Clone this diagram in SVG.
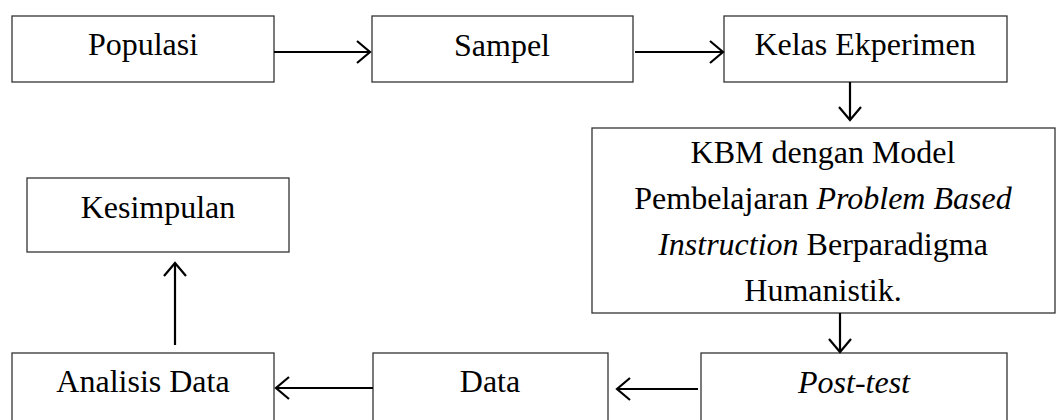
<svg xmlns="http://www.w3.org/2000/svg" width="1059" height="420" viewBox="0 0 1059 420">
<style>
.box{fill:#fff;stroke:#333;stroke-width:1.3}
.t{font-family:"Liberation Serif","Times New Roman",serif;font-size:32px;fill:#000;text-anchor:middle}
.i{font-style:italic}
.c{fill:none;stroke:#000;stroke-width:2.2}
</style>
<defs>
<marker id="ah" viewBox="0 0 16 24" refX="14" refY="12" markerWidth="16" markerHeight="24" markerUnits="userSpaceOnUse" orient="auto">
<path d="M1,1 L14,12 L1,23" fill="none" stroke="#000" stroke-width="2.2"/>
</marker>
</defs>
<rect width="1059" height="420" fill="#fff"/>
<g id="populasi"><rect class="box" x="12" y="16" width="262" height="66"/><text class="t" x="143" y="55">Populasi</text></g>
<g id="sampel"><rect class="box" x="372" y="16" width="261" height="66"/><text class="t" x="502" y="56">Sampel</text></g>
<g id="kelas"><rect class="box" x="724" y="16" width="283" height="66"/><text class="t" x="865" y="55">Kelas Ekperimen</text></g>
<g id="kbm"><rect class="box" x="592" y="128" width="463" height="185"/>
<text class="t" x="823" y="163">KBM dengan Model</text>
<text class="t" x="823" y="209">Pembelajaran <tspan class="i">Problem Based</tspan></text>
<text class="t" x="823" y="255"><tspan class="i">Instruction</tspan> Berparadigma</text>
<text class="t" x="823" y="301">Humanistik.</text></g>
<g id="posttest"><rect class="box" x="701" y="353" width="306" height="80"/><text class="t i" x="854" y="393">Post-test</text></g>
<g id="data"><rect class="box" x="373" y="353" width="235" height="80"/><text class="t" x="490" y="392">Data</text></g>
<g id="analisis"><rect class="box" x="12" y="353" width="262" height="80"/><text class="t" x="143" y="392">Analisis Data</text></g>
<g id="kesimpulan"><rect class="box" x="27" y="178" width="262" height="74"/><text class="t" x="158" y="218">Kesimpulan</text></g>
<g id="connectors">
<path class="c" d="M274,52 H370" marker-end="url(#ah)"/>
<path class="c" d="M635,52 H723" marker-end="url(#ah)"/>
<path class="c" d="M850,82 V120" marker-end="url(#ah)"/>
<path class="c" d="M840,313 V352" marker-end="url(#ah)"/>
<path class="c" d="M698,389 H617" marker-end="url(#ah)"/>
<path class="c" d="M373,388 H276" marker-end="url(#ah)"/>
<path class="c" d="M175,345 V263" marker-end="url(#ah)"/>
</g>
</svg>
